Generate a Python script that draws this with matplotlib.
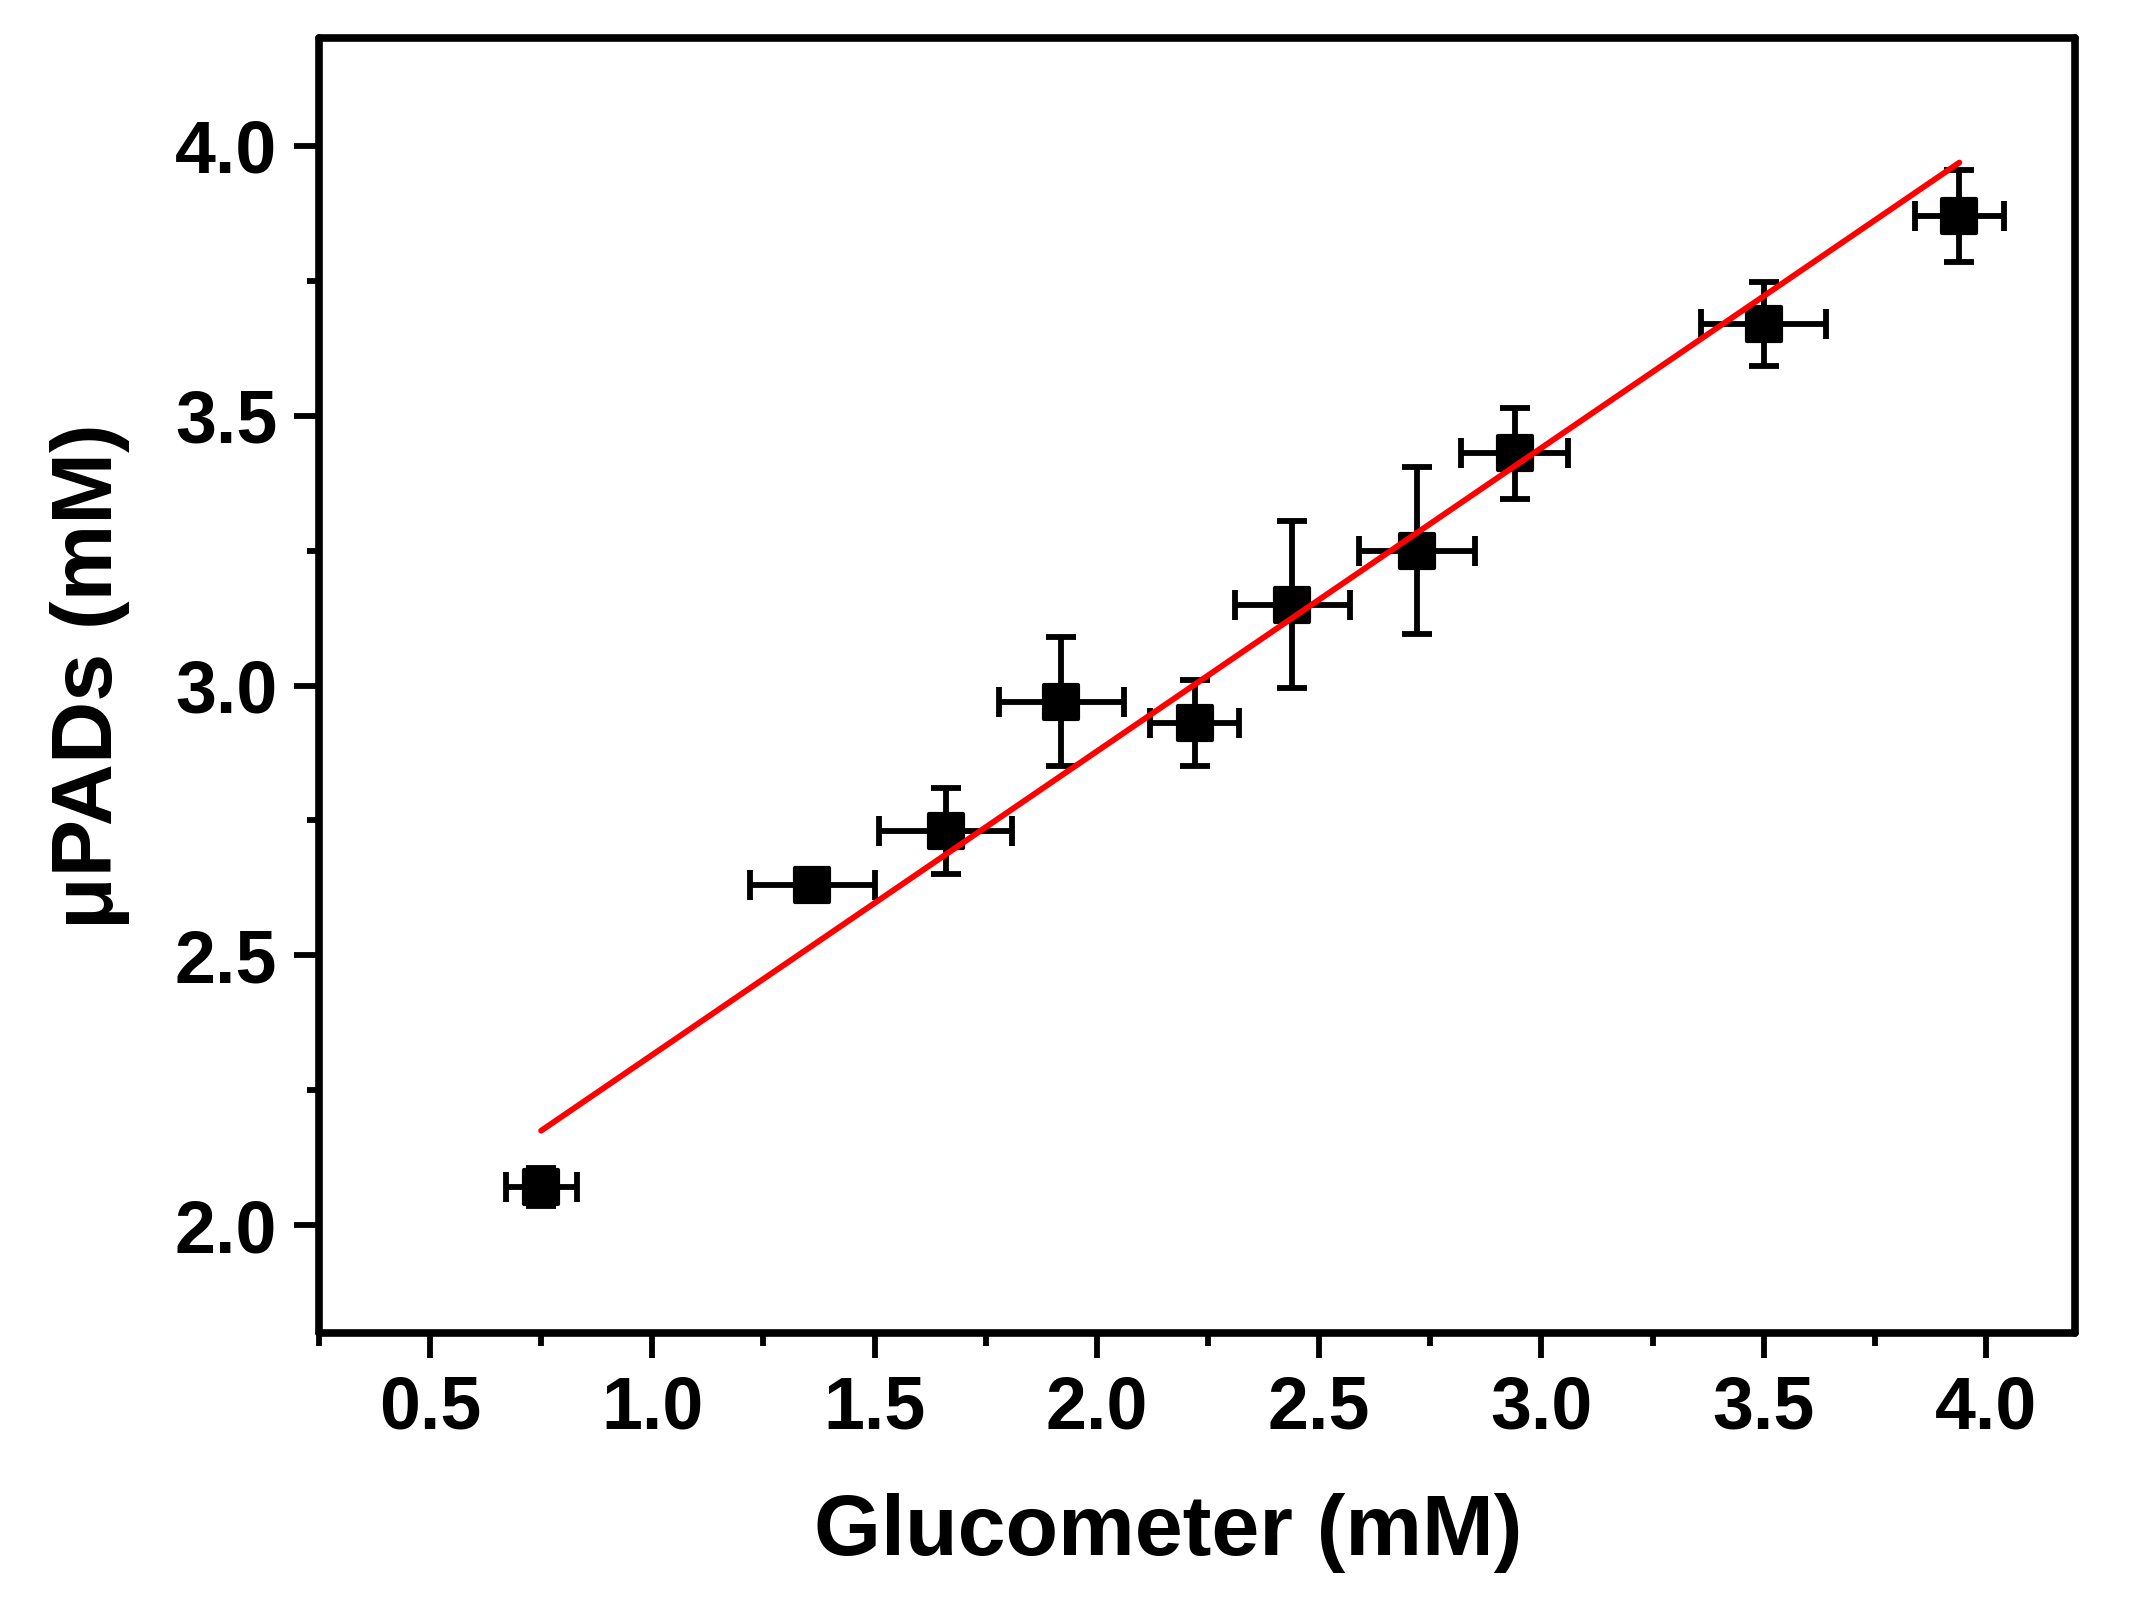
import matplotlib
matplotlib.use("Agg")
import numpy as np
import matplotlib.pyplot as plt
from matplotlib.markers import MarkerStyle
from matplotlib.ticker import MultipleLocator

# valores (glucometro vs uPADs, en mM)
glucometro = [0.75, 1.36, 1.66, 1.92, 2.22, 2.44, 2.72, 2.94, 3.50, 3.94]
upads = [2.07, 2.63, 2.73, 2.97, 2.93, 3.15, 3.25, 3.43, 3.67, 3.87]
err_glucometro = [0.08, 0.14, 0.15, 0.14, 0.10, 0.13, 0.13, 0.12, 0.14, 0.10]
err_upads = [0.035, 0.03, 0.08, 0.12, 0.08, 0.155, 0.155, 0.085, 0.077, 0.085]

# recta de ajuste
pendiente = 0.5625
ordenada = 1.753

plt.rcParams["font.family"] = ["Liberation Sans", "DejaVu Sans"]
plt.rcParams["font.weight"] = "bold"

fig = plt.figure(figsize=(21.4, 16.12), dpi=100)
ax = fig.add_axes([0.149, 0.1731, 0.8206, 0.8033])

cuadrado = MarkerStyle("s", joinstyle="round")
ax.errorbar(glucometro, upads, xerr=err_glucometro, yerr=err_upads,
            fmt="none", ecolor="black", elinewidth=4.2,
            capsize=10.5, capthick=4.2, zorder=2)
ax.plot(glucometro, upads, linestyle="none", marker=cuadrado,
        markersize=25, markerfacecolor="black", markeredgecolor="black",
        markeredgewidth=3, zorder=3)

x_fit = np.array([min(glucometro), max(glucometro)])
ax.plot(x_fit, pendiente * x_fit + ordenada, color="#ff0000",
        linewidth=4.2, solid_capstyle="round", zorder=4)

ax.set_xlim(0.25, 4.2)
ax.set_ylim(1.8, 4.2)
ax.xaxis.set_major_locator(MultipleLocator(0.5))
ax.xaxis.set_minor_locator(MultipleLocator(0.25))
ax.yaxis.set_major_locator(MultipleLocator(0.5))
ax.yaxis.set_minor_locator(MultipleLocator(0.25))
ax.xaxis.set_major_formatter(plt.FormatStrFormatter("%.1f"))
ax.yaxis.set_major_formatter(plt.FormatStrFormatter("%.1f"))

for lado in ax.spines.values():
    lado.set_linewidth(5.5)
    lado.set_capstyle("round")

ax.tick_params(which="both", direction="out", top=False, right=False,
               width=4.2, labelsize=53)
ax.tick_params(which="major", length=18)
ax.tick_params(which="minor", length=9)
ax.tick_params(axis="x", which="major", pad=12)
ax.tick_params(axis="y", which="major", pad=12)

ax.set_xlabel("Glucometer (mM)", fontsize=62, fontweight="bold")
ax.set_ylabel("\u03bcPADs (mM)", fontsize=62, fontweight="bold")
ax.xaxis.set_label_coords(0.4835, -0.1236)
ax.yaxis.set_label_coords(-0.1076, 0.507)

fig.savefig("out.png", dpi=100)
